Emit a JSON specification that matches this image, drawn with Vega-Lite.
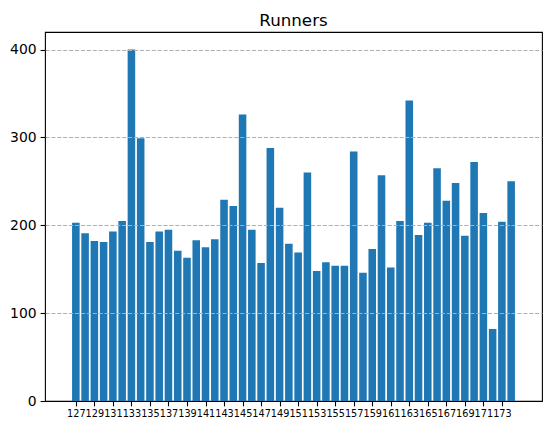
{
  "$schema": "https://vega.github.io/schema/vega-lite/v6.json",
  "autosize": "none",
  "width": 497,
  "height": 369,
  "padding": {"left": 45, "top": 32, "right": 10, "bottom": 30},
  "background": "white",
  "title": {
    "text": "Runners",
    "font": "DejaVu Sans",
    "fontSize": 16.7,
    "fontWeight": "normal",
    "color": "black",
    "anchor": "middle",
    "baseline": "alphabetic",
    "offset": -11
  },
  "data": {
    "values": [
      {"id": 127, "runners": 203},
      {"id": 128, "runners": 191},
      {"id": 129, "runners": 182},
      {"id": 130, "runners": 181},
      {"id": 131, "runners": 193},
      {"id": 132, "runners": 205},
      {"id": 133, "runners": 400},
      {"id": 134, "runners": 299},
      {"id": 135, "runners": 181},
      {"id": 136, "runners": 193},
      {"id": 137, "runners": 195},
      {"id": 138, "runners": 171},
      {"id": 139, "runners": 163},
      {"id": 140, "runners": 183},
      {"id": 141, "runners": 175},
      {"id": 142, "runners": 184},
      {"id": 143, "runners": 229},
      {"id": 144, "runners": 222},
      {"id": 145, "runners": 326},
      {"id": 146, "runners": 195},
      {"id": 147, "runners": 157},
      {"id": 148, "runners": 288},
      {"id": 149, "runners": 220},
      {"id": 150, "runners": 179},
      {"id": 151, "runners": 169},
      {"id": 152, "runners": 260},
      {"id": 153, "runners": 148},
      {"id": 154, "runners": 158},
      {"id": 155, "runners": 154},
      {"id": 156, "runners": 154},
      {"id": 157, "runners": 284},
      {"id": 158, "runners": 146},
      {"id": 159, "runners": 173},
      {"id": 160, "runners": 257},
      {"id": 161, "runners": 152},
      {"id": 162, "runners": 205},
      {"id": 163, "runners": 342},
      {"id": 164, "runners": 189},
      {"id": 165, "runners": 203},
      {"id": 166, "runners": 265},
      {"id": 167, "runners": 228},
      {"id": 168, "runners": 248},
      {"id": 169, "runners": 188},
      {"id": 170, "runners": 272},
      {"id": 171, "runners": 214},
      {"id": 172, "runners": 82},
      {"id": 173, "runners": 204},
      {"id": 174, "runners": 250}
    ]
  },
  "mark": {"type": "bar", "color": "#1f77b4", "width": 7.56},
  "encoding": {
    "x": {
      "field": "id",
      "type": "quantitative",
      "scale": {"domain": [124.21, 176.79], "nice": false, "zero": false},
      "axis": {
        "title": null,
        "values": [127, 129, 131, 133, 135, 137, 139, 141, 143, 145, 147, 149, 151, 153, 155, 157, 159, 161, 163, 165, 167, 169, 171, 173],
        "format": "d",
        "labelAngle": 0,
        "labelFontSize": 9.7,
        "labelOverlap": false,
        "labelBound": false,
        "labelFlush": false,
        "labelPadding": 3,
        "grid": false
      }
    },
    "y": {
      "field": "runners",
      "type": "quantitative",
      "scale": {"domain": [0, 420], "nice": false},
      "axis": {
        "title": null,
        "values": [0, 100, 200, 300, 400],
        "labelFontSize": 13.9,
        "labelPadding": 4,
        "grid": true,
        "gridColor": "#b0b0b0",
        "gridWidth": 1.1,
        "gridDash": [4.1, 1.8],
        "gridOpacity": {"condition": {"test": "datum.value === 0", "value": 0}, "value": 1},
        "zindex": 1
      }
    }
  },
  "config": {
    "view": {"stroke": "black", "strokeWidth": 1.1},
    "axis": {
      "domain": false,
      "labelFont": "DejaVu Sans",
      "labelColor": "black",
      "tickColor": "black",
      "tickSize": 4.9,
      "tickWidth": 1.1
    }
  }
}
